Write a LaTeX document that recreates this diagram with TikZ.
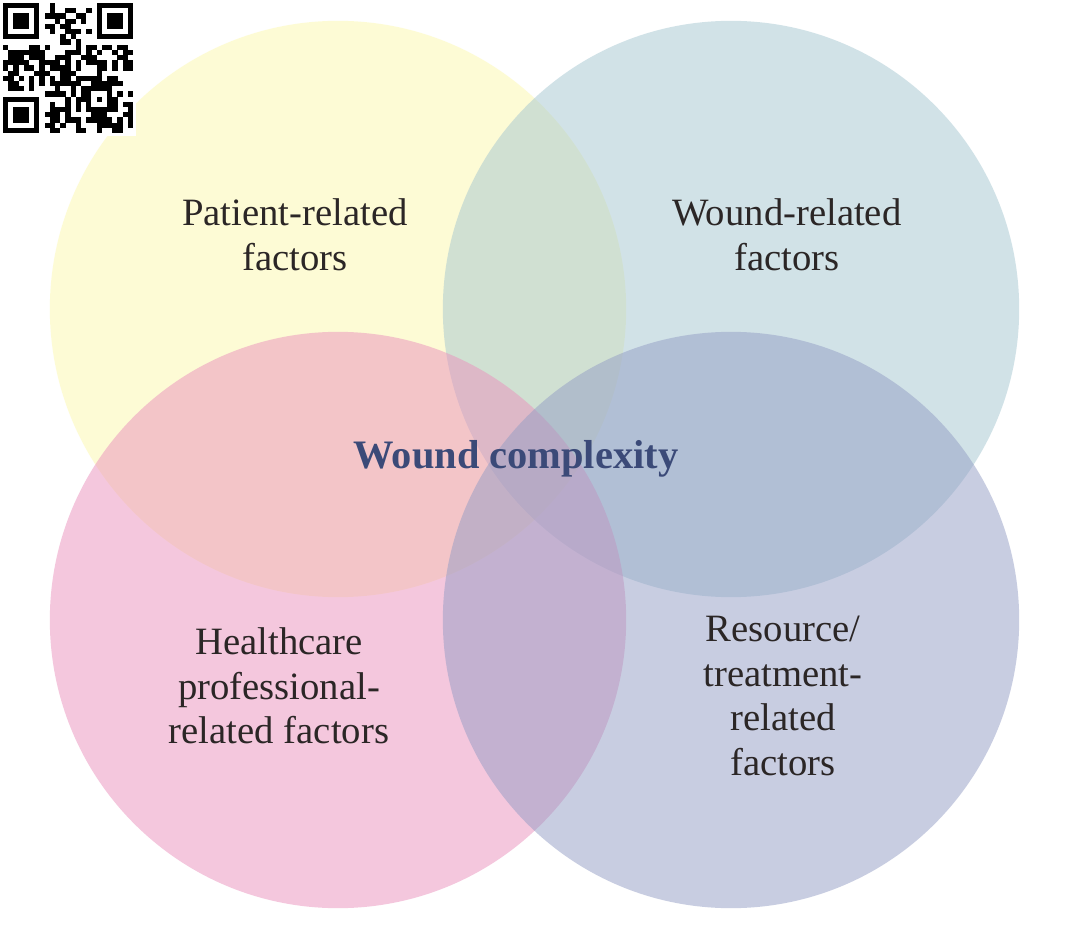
\documentclass[tikz,border=0pt]{standalone}
\usepackage{fontspec}
\setmainfont{Liberation Serif}
\usetikzlibrary{positioning}

\definecolor{patientyellow}{RGB}{253,249,173}
\definecolor{woundblue}{RGB}{165,199,209}
\definecolor{carepink}{RGB}{235,145,189}
\definecolor{resourcelilac}{RGB}{147,157,197}
\definecolor{labelink}{HTML}{2B2626}
\definecolor{titlenavy}{HTML}{3B4A78}

\begin{document}
\begin{tikzpicture}[
            x=0.01cm, y=-0.01cm,
            factor/.style={align=center, text=labelink, inner sep=0pt,
                font=\fontsize{11}{12.7}\selectfont},
            disc/.style={fill=#1, fill opacity=0.5},
            module/.style={fill=black}
        ]

            \useasboundingbox (0,0) rectangle (1080,934);
            \fill[white] (0,0) rectangle (1080,934);

            % the four overlapping circles
            \fill[disc=patientyellow] (338,309) circle [radius=2.88cm];
            \fill[disc=woundblue] (731,309) circle [radius=2.88cm];
            \fill[disc=carepink] (338,620) circle [radius=2.88cm];
            \fill[disc=resourcelilac] (731,620) circle [radius=2.88cm];

            % labels
            \node[factor] (patient) at (295,235) {Patient-related\\factors};
            \node[factor] (wound) at (787,235) {Wound-related\\factors};
            \node[factor] (professional) at (279,686) {Healthcare\\professional-\\related factors};
            \node[factor] (resource) at (783,696) {Resource/\\treatment-\\related\\factors};
            \node[text=titlenavy, font=\fontsize{11.5}{13}\selectfont\bfseries] (complexity) at (516,459) {Wound complexity};

            % qr code in the corner
            \fill[white] (0,0) rectangle (136,136);
            \pgfmathsetseed{11}
            \foreach \i in {0,...,24}{
                \foreach \j in {0,...,24}{
                    \pgfmathtruncatemacro\keep{((\i<8 && \j<8) || (\i>16 && \j<8) || (\i<8 && \j>16)) ? 0 : (rnd<0.5 ? 1 : 0)}
                    \ifnum\keep=1
                        \fill[module] ({3+\i*5.2},{3+\j*5.2}) rectangle +(5.3,5.3);
                    \fi
                }
            }
            \foreach \fx/\fy in {0/0, 18/0, 0/18}{
                \fill[black] ({3+\fx*5.2},{3+\fy*5.2}) rectangle +(36.4,36.4);
                \fill[white] ({3+(\fx+1)*5.2},{3+(\fy+1)*5.2}) rectangle +(26,26);
                \fill[black] ({3+(\fx+2)*5.2},{3+(\fy+2)*5.2}) rectangle +(15.6,15.6);
            }
            \fill[black] ({3+16*5.2},{3+16*5.2}) rectangle +(26,26);
            \fill[white] ({3+17*5.2},{3+17*5.2}) rectangle +(15.6,15.6);
            \fill[black] ({3+18*5.2},{3+18*5.2}) rectangle +(5.2,5.2);
        \end{tikzpicture}
\end{document}
